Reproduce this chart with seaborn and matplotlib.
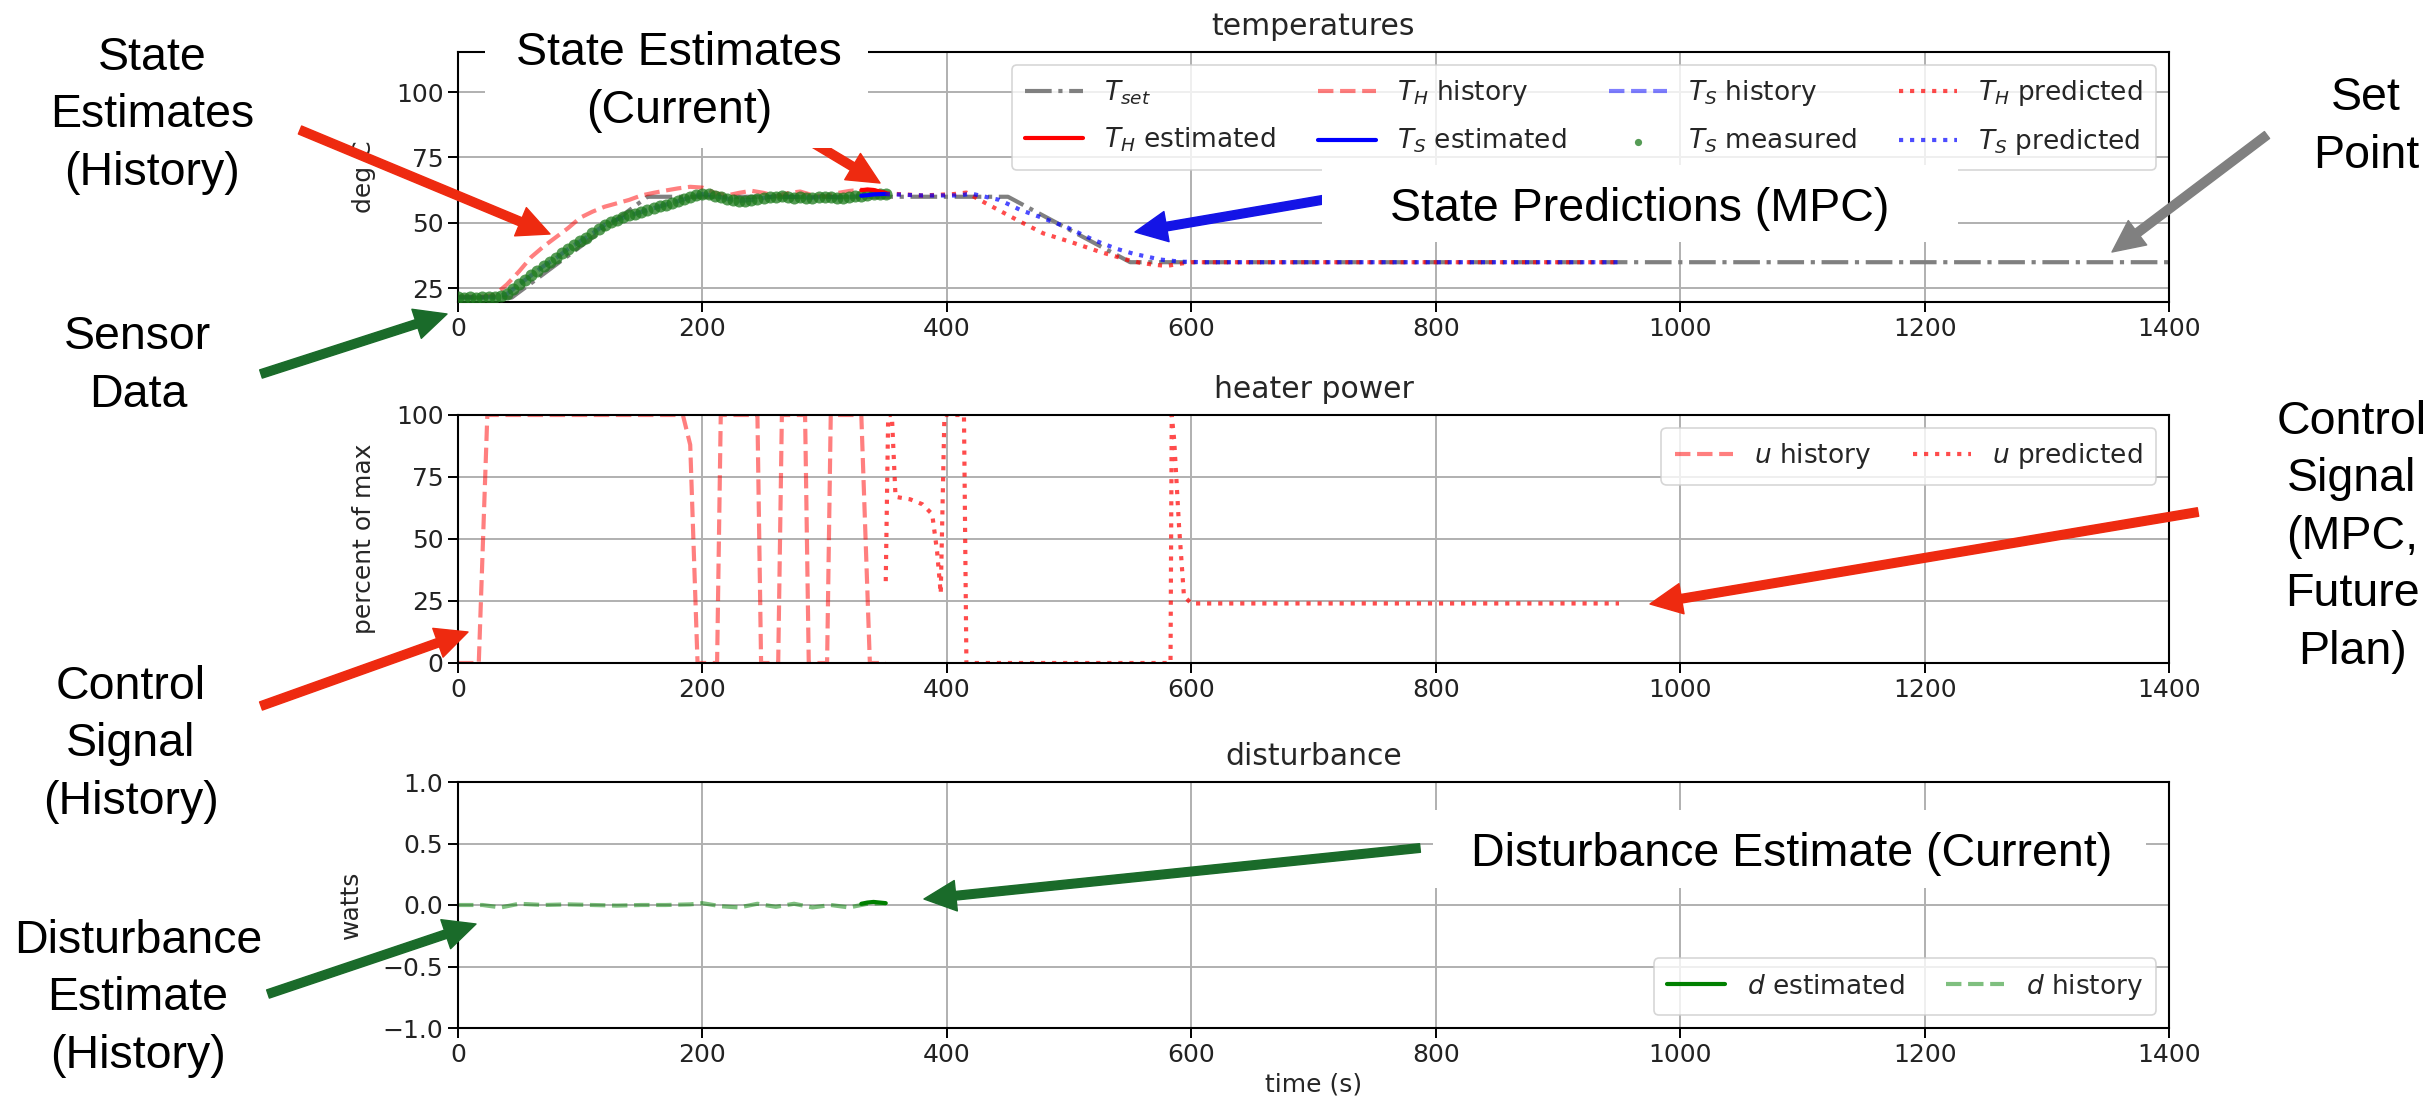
import matplotlib
matplotlib.use("Agg")
import matplotlib.pyplot as plt
import seaborn as sns
from matplotlib.patches import FancyArrowPatch, Rectangle

# ---------------- data ----------------
t_set = [0, 44, 155, 450, 550, 1400]
T_set = [21.5, 21.5, 60, 60, 35, 35]

t_hist = [0, 20, 30, 40, 50, 60, 70, 80, 90, 100, 110, 120, 130, 140, 150, 160, 170, 180,
          190, 200, 210, 220, 230, 240, 250, 260, 270, 280, 290, 300, 310, 320, 330, 340, 350]
TH_hist = [21.8, 21.8, 22.5, 26.5, 31.5, 37.0, 41.0, 44.5, 48.0, 52.0, 54.3, 56.2, 57.5, 58.8,
           60.5, 61.5, 62.4, 63.2, 63.8, 63.5, 61.5, 60.5, 61.5, 62.3, 61.5, 60.2, 61.4, 62.0,
           60.6, 60.1, 61.4, 62.2, 62.7, 62.0, 61.3]
TS_hist = [21.6, 21.6, 21.8, 22.8, 26.5, 30.0, 33.5, 36.5, 40.0, 43.0, 46.0, 49.2, 51.2, 52.8,
           54.2, 55.6, 57.0, 58.3, 59.8, 61.0, 60.4, 59.3, 58.4, 58.8, 59.6, 60.1, 60.0, 59.8,
           59.6, 60.1, 59.7, 59.8, 60.4, 60.9, 61.1]

t_meas = [0, 5, 10, 15, 20, 25, 30, 35, 40, 45, 50, 55, 60, 65, 70, 75, 80, 85, 90, 95, 100,
          105, 110, 115, 120, 125, 130, 135, 140, 145, 150, 155, 160, 165, 170, 175, 180, 185,
          190, 195, 200, 205, 210, 215, 220, 225, 230, 235, 240, 245, 250, 255, 260, 265, 270,
          275, 280, 285, 290, 295, 300, 305, 310, 315, 320, 325, 330, 335, 340, 345, 350]
TS_meas = [21.6, 21.4, 21.7, 21.5, 21.6, 21.8, 21.7, 22.0, 22.9, 24.6, 26.5, 28.3, 30.1, 31.8,
           33.4, 35.0, 36.6, 38.4, 40.0, 41.6, 43.1, 44.4, 46.0, 47.7, 49.1, 50.3, 51.2, 52.1,
           52.9, 53.6, 54.3, 55.0, 55.6, 56.4, 57.0, 57.6, 58.3, 59.1, 59.8, 60.6, 61.1, 60.9,
           60.4, 59.8, 59.3, 58.7, 58.4, 58.5, 58.8, 59.2, 59.6, 60.0, 60.1, 60.3, 60.0, 59.7,
           59.8, 59.5, 59.6, 60.0, 60.1, 59.9, 59.7, 59.6, 59.8, 60.2, 60.4, 60.6, 60.9, 61.0, 61.1]

t_est = [330, 335, 340, 345, 350]
TH_est = [62.5, 62.8, 62.6, 62.0, 61.5]
TS_est = [60.4, 60.6, 60.9, 61.0, 61.1]

t_pred_S = [350, 380, 410, 420, 443, 460, 476, 498, 520, 539, 553, 564, 575, 591, 610, 950]
TS_pred = [61.0, 60.5, 60.5, 61.2, 58.8, 55.0, 52.3, 48.4, 43.5, 40.1, 38.2, 37.1, 36.0, 35.2, 35.0, 35.0]
t_pred_H = [350, 380, 405, 416, 430, 448, 460, 479, 501, 525, 547, 558, 570, 580, 592, 600, 950]
TH_pred = [61.3, 60.5, 61.0, 61.6, 58.0, 53.5, 50.5, 46.0, 42.8, 39.0, 36.0, 34.8, 34.0, 33.6, 34.5, 35.0, 35.0]

t_u_hist = [0, 17, 24, 184, 190, 196, 212, 215, 245, 248, 262, 265, 284, 287, 302, 305, 330, 337, 350]
u_hist = [0, 0, 100, 100, 88, 0, 0, 100, 100, 0, 0, 100, 100, 0, 0, 100, 100, 0, 0]
t_u_pred = [350, 352, 355, 358, 370, 380, 388, 392, 395, 398, 414, 416, 583, 584, 586, 590, 594, 600, 950]
u_pred = [33, 100, 100, 67, 66, 64, 60, 45, 28, 100, 100, 0, 0, 100, 90, 55, 27, 24, 24]

t_d_hist = [0, 20, 35, 50, 70, 90, 110, 130, 150, 170, 190, 200, 215, 230, 245, 260, 275, 290,
            305, 320, 335, 350]
d_hist = [0.0, 0.0, -0.02, 0.01, 0.0, 0.005, 0.0, -0.005, 0.0, 0.0, 0.005, 0.015, -0.01, -0.02,
          0.01, -0.015, 0.01, -0.02, 0.0, -0.02, 0.01, 0.015]
t_d_est = [330, 335, 340, 345, 350]
d_est = [0.01, 0.02, 0.025, 0.02, 0.015]

xticks = [0, 200, 400, 600, 800, 1000, 1200, 1400]
yticks_T = [25, 50, 75, 100]
yticks_u = [0, 25, 50, 75, 100]
yticks_d = [-1.0, -0.5, 0.0, 0.5, 1.0]

# ---------------- style ----------------
sns.set_theme(style="ticks")
plt.rcParams["font.family"] = ["DejaVu Sans"]
plt.rcParams["mathtext.fontset"] = "dejavusans"

W, H = 2433, 1110
fig = plt.figure(figsize=(W / 100, H / 100), dpi=100)
fig.patch.set_facecolor("white")


def fx(x):
    return x / W


def fy(y):
    return 1 - y / H


L, R = 458, 2169
ax1 = fig.add_axes([fx(L), fy(302), (R - L) / W, (302 - 52) / H])
ax2 = fig.add_axes([fx(L), fy(663), (R - L) / W, (663 - 415) / H])
ax3 = fig.add_axes([fx(L), fy(1028), (R - L) / W, (1028 - 782) / H])

FS = 18
LFS = 19
TFS = 21.5
LW = 3.0


def line(ax, x, y, color, ls, label, alpha=1.0, lw=LW, z=2):
    sns.lineplot(x=x, y=y, ax=ax, color=color, linestyle=ls, linewidth=lw, alpha=alpha,
                 label=label, sort=False, estimator=None, zorder=z)


# temperatures
line(ax1, t_set, T_set, "gray", "-.", r"$T_{set}$")
line(ax1, t_hist, TH_hist, "red", "--", r"$T_H$ history", alpha=0.5)
line(ax1, t_hist, TS_hist, "blue", "--", r"$T_S$ history", alpha=0.5)
sns.scatterplot(x=t_meas, y=TS_meas, ax=ax1, color="#1c7a1c", s=75, alpha=0.75, linewidth=0,
                label=r"$T_S$ measured", zorder=3)
line(ax1, t_est, TH_est, "red", "-", r"$T_H$ estimated", z=4)
line(ax1, t_est, TS_est, "blue", "-", r"$T_S$ estimated", z=4)
line(ax1, t_pred_H, TH_pred, "red", ":", r"$T_H$ predicted", alpha=0.7, z=4)
line(ax1, t_pred_S, TS_pred, "blue", ":", r"$T_S$ predicted", alpha=0.7, z=4)

# heater power
line(ax2, t_u_hist, u_hist, "red", "--", r"$u$ history", alpha=0.5)
line(ax2, t_u_pred, u_pred, "red", ":", r"$u$ predicted", alpha=0.7)

# disturbance
line(ax3, t_d_est, d_est, "green", "-", r"$d$ estimated", z=3)
line(ax3, t_d_hist, d_hist, "green", "--", r"$d$ history", alpha=0.5)


def ordered_legend(ax, order, **kw):
    h, l = ax.get_legend_handles_labels()
    d = dict(zip(l, h))
    leg = ax.legend([d[k] for k in order], order, fontsize=LFS, labelspacing=0.7,
                    handlelength=2.2, columnspacing=1.6, borderpad=0.5, markerscale=0.6, **kw)
    leg.get_frame().set_linewidth(1.2)


ordered_legend(ax1, [r"$T_{set}$", r"$T_H$ estimated", r"$T_H$ history", r"$T_S$ estimated",
                     r"$T_S$ history", r"$T_S$ measured", r"$T_H$ predicted", r"$T_S$ predicted"],
               ncol=4, loc="upper right")
ordered_legend(ax2, [r"$u$ history", r"$u$ predicted"], ncol=2, loc="upper right")
ordered_legend(ax3, [r"$d$ estimated", r"$d$ history"], ncol=2, loc="lower right")

ax1.set_ylim(19.8, 115.3)
ax1.set_yticks(yticks_T)
ax2.set_ylim(0, 100)
ax2.set_yticks(yticks_u)
ax3.set_ylim(-1, 1)
ax3.set_yticks(yticks_d)

ax1.set_title("temperatures", fontsize=TFS, pad=12)
ax2.set_title("heater power", fontsize=TFS, pad=12)
ax3.set_title("disturbance", fontsize=TFS, pad=12)
ax1.set_ylabel("deg C", fontsize=FS, labelpad=14)
ax2.set_ylabel("percent of max", fontsize=FS, labelpad=14)
ax3.set_ylabel("watts", fontsize=FS, labelpad=14)
ax3.set_xlabel("time (s)", fontsize=FS)
for ax in (ax1, ax2):
    ax.set_xlabel("")

for ax in (ax1, ax2, ax3):
    ax.set_xlim(0, 1400)
    ax.set_xticks(xticks)
    ax.set_facecolor("white")
    ax.grid(True, color="#b0b0b0", linewidth=1.4)
    ax.tick_params(labelsize=FS, length=7, width=1.4, color="black", labelcolor="#222222")
    for s in ax.spines.values():
        s.set_linewidth(1.5)
        s.set_color("black")
        s.set_visible(True)

# ---------------- annotations ----------------
AF = ["Liberation Sans", "DejaVu Sans"]
AFS = 33.5
ALS = 1.40
STEP = 55


def note(x, y_first, s):
    n = s.count("\n")
    fig.text(fx(x), fy(y_first + n * STEP), s, ha="center", va="baseline", fontsize=AFS,
             family=AF, linespacing=ALS, multialignment="center", color="black", zorder=6)


def wbox(x0, y0, x1, y1):
    fig.add_artist(Rectangle((fx(x0), fy(y1)), (x1 - x0) / W, (y1 - y0) / H,
                             transform=fig.transFigure, facecolor="white",
                             edgecolor="none", zorder=5))


def arrow(x0, y0, x1, y1, color):
    fig.add_artist(FancyArrowPatch((fx(x0), fy(y0)), (fx(x1), fy(y1)),
                                   transform=fig.transFigure,
                                   arrowstyle="simple,head_length=2.3,head_width=2.2,tail_width=0.62",
                                   mutation_scale=10, color=color, shrinkA=0, shrinkB=0,
                                   zorder=4))


RED = "#ee2a10"
GREEN = "#1a6b2a"
BLUE = "#1414e6"
GREY = "#808080"

arrow(300, 130, 550, 234, RED)
arrow(261, 374, 447, 314, GREEN)
arrow(800, 135, 880, 183, RED)
arrow(1345, 196, 1135, 232, BLUE)
arrow(2267, 135, 2112, 252, GREY)
arrow(261, 706, 468, 632, RED)
arrow(2198, 512, 1650, 604, RED)
arrow(1420, 848, 924, 899, GREEN)
arrow(268, 994, 476, 924, GREEN)

wbox(485, 12, 868, 148)
wbox(1322, 165, 1958, 242)
wbox(1433, 810, 2146, 888)

note(152, 75, "State\nEstimates\n(History)")
note(138, 352, "Sensor\nData")
note(131, 704, "Control\nSignal\n(History)")
note(138, 958, "Disturbance\nEstimate\n(History)")
note(2366, 113, "Set\nPoint")
note(2352, 444, "Control\nSignal\n(MPC,\nFuture\nPlan)")
note(679, 68, "State Estimates\n(Current)")
note(1640, 221, "State Predictions (MPC)")
note(1792, 866, "Disturbance Estimate (Current)")

fig.savefig("out.png", dpi=100, facecolor="white")
